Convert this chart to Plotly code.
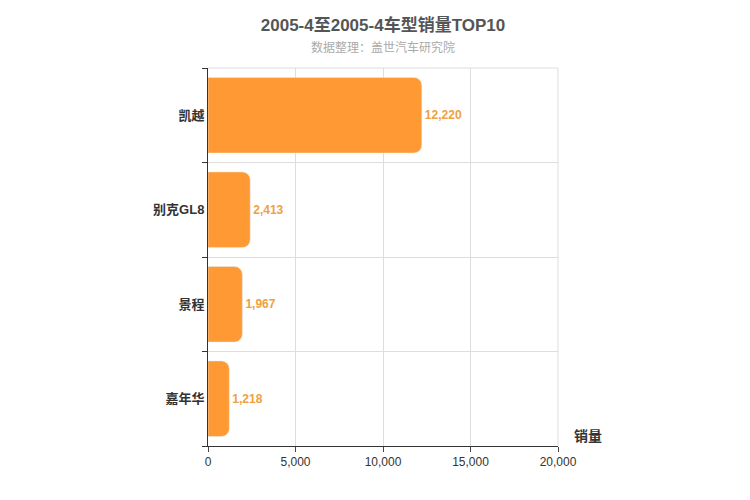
import plotly.graph_objects as go

models = ['凯越', '别克GL8', '景程', '嘉年华']
sales = [12220, 2413, 1967, 1218]
pos = [3, 2, 1, 0]

fig = go.Figure(go.Bar(
    x=sales, y=pos, orientation='h', width=0.8,
    marker=dict(color='#ff9933', cornerradius=8),
    text=[f'<b>{v:,}</b>' for v in sales], textposition='outside',
    textfont=dict(color='#f0a040', size=12),
    cliponaxis=False,
))

fig.update_layout(
    width=750, height=500,
    margin=dict(l=200, r=200, t=60, b=62, autoexpand=False),
    plot_bgcolor='white', paper_bgcolor='white',
    font=dict(family='Liberation Sans, Arial, Noto Sans CJK SC, sans-serif', color='#333'),
    showlegend=False,
    title=dict(text='<b>2005-4至2005-4车型销量TOP10</b>', x=0.5, y=0.965,
               xanchor='center', yanchor='middle', font=dict(size=17, color='#555')),
    annotations=[
        dict(text='数据整理：盖世汽车研究院', x=0.5, y=1.055, xref='paper', yref='paper',
             yanchor='middle', showarrow=False, font=dict(size=12, color='#aaa')),
        dict(text='<b>销量</b>', x=1.04, xref='paper', y=0, yref='paper',
             xanchor='left', yanchor='bottom', showarrow=False,
             font=dict(size=14, color='#333')),
    ],
)
fig.update_xaxes(range=[0, 20000], dtick=5000, tickformat=',', showgrid=True,
                 gridcolor='#ddd', zeroline=False, showline=True, linecolor='#333',
                 ticks='outside', ticklen=5, tickfont=dict(size=12), automargin=False)
fig.update_yaxes(range=[-0.5, 3.5], tickvals=pos, ticktext=[f'<b>{m}</b>' for m in models],
                 showgrid=False, zeroline=False, showline=True, linecolor='#333',
                 ticks='', tickfont=dict(size=13, color='#333'), automargin=False,
                 minor=dict(tick0=0.5, dtick=1, ticks='outside', ticklen=5,
                            showgrid=True, gridcolor='#ddd', tickcolor='#333'))
fig.add_shape(type='line', xref='paper', yref='paper', x0=1, x1=1, y0=0, y1=1,
              line=dict(color='#ddd', width=1))
fig.add_shape(type='line', xref='paper', yref='paper', x0=0, x1=1, y0=1, y1=1,
              line=dict(color='#ddd', width=1))

fig.write_html('out.html')
